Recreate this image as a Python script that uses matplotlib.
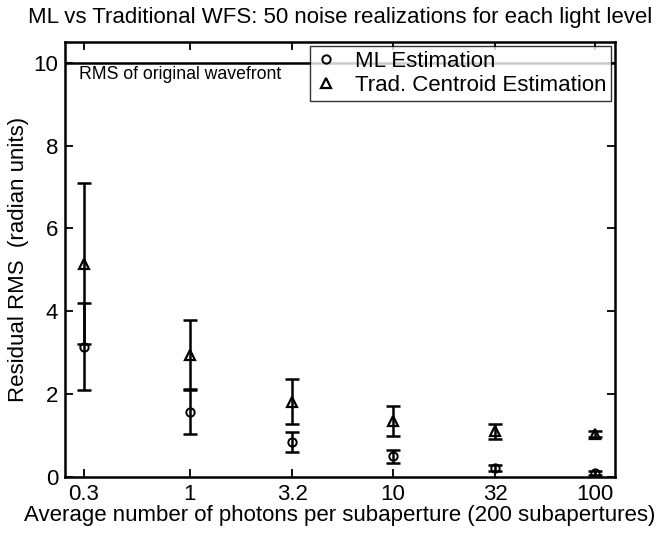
import matplotlib
matplotlib.use('Agg')
import matplotlib.pyplot as plt
from matplotlib.ticker import FixedLocator, NullLocator

plt.rcParams['font.family'] = ['Liberation Sans', 'DejaVu Sans']

photons = [0.3, 1, 3.2, 10, 32, 100]
tick_labels = ['0.3', '1', '3.2', '10', '32', '100']

ml_rms = [3.15, 1.57, 0.85, 0.50, 0.22, 0.10]
ml_err = [1.05, 0.52, 0.24, 0.15, 0.07, 0.04]

trad_rms = [5.15, 2.95, 1.82, 1.36, 1.10, 1.04]
trad_err = [1.95, 0.83, 0.55, 0.36, 0.18, 0.08]

orig_rms = 10.0

fig = plt.figure(figsize=(6.64, 5.37), dpi=100)
ax = fig.add_axes([65/664, 1 - 477/537, 550/664, 435/537])

ax.errorbar(photons, ml_rms, yerr=ml_err, fmt='none', ecolor='black', elinewidth=1.8, capsize=5, capthick=1.8)
ax.errorbar(photons, trad_rms, yerr=trad_err, fmt='none', ecolor='black', elinewidth=1.8, capsize=5, capthick=1.8)
ax.plot(photons, ml_rms, 'o', mfc='none', mec='black', mew=1.4, ms=6, ls='none', label='ML Estimation')
ax.plot(photons, trad_rms, '^', mfc='none', mec='black', mew=1.6, ms=7, ls='none', label='Trad. Centroid Estimation')

# level of the uncorrected wavefront
ax.axhline(orig_rms, color='black', lw=1.8)
ax.text(0.285, 9.72, 'RMS of original wavefront', fontsize=12.7, va='center', ha='left')

ax.set_xscale('log')
ax.set_xlim(0.242, 125)
ax.set_ylim(0, 10.5)
ax.xaxis.set_major_locator(FixedLocator(photons))
ax.xaxis.set_minor_locator(NullLocator())
ax.set_xticklabels(tick_labels)
ax.set_yticks([0, 2, 4, 6, 8, 10])

ax.tick_params(direction='in', top=True, right=True, labelsize=16, length=6, width=1.3, pad=5)
for s in ax.spines.values():
    s.set_linewidth(1.8)

ax.set_xlabel('Average number of photons per subaperture (200 subapertures)', fontsize=16, labelpad=0)
ax.set_ylabel('Residual RMS  (radian units)', fontsize=16, labelpad=3)
ax.set_title('ML vs Traditional WFS: 50 noise realizations for each light level', fontsize=16, pad=14)

leg = ax.legend(loc='upper right', fontsize=16, frameon=True, fancybox=False, edgecolor='black',
                handlelength=1.0, handletextpad=0.8, borderpad=0.2, labelspacing=0.15,
                borderaxespad=0.2)
leg.get_frame().set_linewidth(1.0)

fig.savefig('out.png', dpi=100)
plt.close(fig)
